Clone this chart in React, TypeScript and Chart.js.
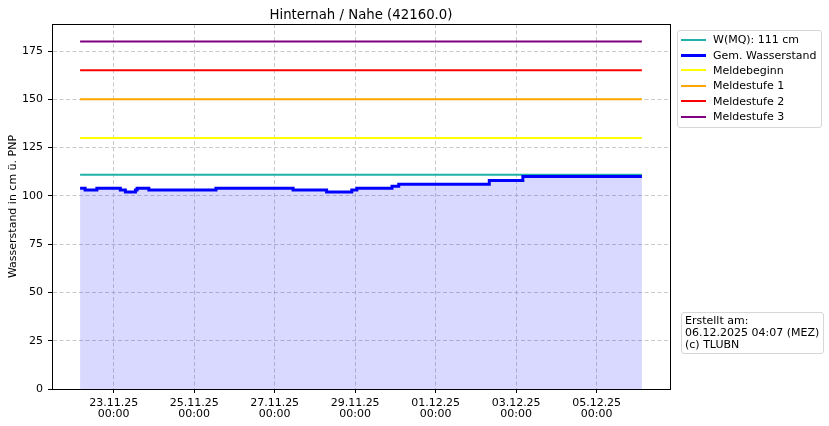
import { useEffect, useRef } from 'react'
import { Chart, registerables } from 'chart.js'
import type { Plugin } from 'chart.js'

Chart.register(...registerables)

// Pegel data (times are local MEZ, kept as UTC to avoid TZ shifts)
const chartTitle = 'Hinternah / Nahe (42160.0)'
const yAxisTitle = 'Wasserstand in cm ü. PNP'

const levelTimes = [
  '2025-11-22T04:00', '2025-11-22T07:00', '2025-11-22T14:00', '2025-11-23T04:00',
  '2025-11-23T07:00', '2025-11-23T13:00', '2025-11-23T14:00', '2025-11-23T21:00',
  '2025-11-25T13:00', '2025-11-27T11:00', '2025-11-28T07:00', '2025-11-28T22:00',
  '2025-11-29T01:00', '2025-11-29T22:00', '2025-11-30T02:00', '2025-12-02T08:00',
  '2025-12-03T04:00', '2025-12-06T03:00'
]
const levelValues = [104, 103, 104, 103, 102, 103, 104, 103, 104, 103, 102, 103, 104, 105, 106, 108, 110, 110]

const mqLabel = 'W(MQ): 111 cm'
const mqValue = 111

const thresholdNames = ['Meldebeginn', 'Meldestufe 1', 'Meldestufe 2', 'Meldestufe 3']
const thresholdValues = [130, 150, 165, 180]
const thresholdColors = ['#ffff00', '#ffa500', '#ff0000', '#800080']

const xTickTimes = [
  '2025-11-23T00:00', '2025-11-25T00:00', '2025-11-27T00:00', '2025-11-29T00:00',
  '2025-12-01T00:00', '2025-12-03T00:00', '2025-12-05T00:00'
]
const yTickValues = [0, 25, 50, 75, 100, 125, 150, 175]

const infoLines = ['Erstellt am:', '06.12.2025 04:07 (MEZ)', '(c) TLUBN']

const ts = (s: string) => Date.parse(s + ':00Z')
const pad2 = (n: number) => String(n).padStart(2, '0')

const FONT = '"DejaVu Sans", sans-serif'

// matplotlib-like box around the plot area
const framePlugin: Plugin = {
  id: 'frame',
  afterDatasetsDraw(chart) {
    const { ctx, chartArea } = chart
    ctx.save()
    ctx.strokeStyle = '#000'
    ctx.lineWidth = 1
    ctx.strokeRect(
      Math.round(chartArea.left) + 0.5,
      Math.round(chartArea.top) + 0.5,
      Math.round(chartArea.right - chartArea.left),
      Math.round(chartArea.bottom - chartArea.top)
    )
    ctx.restore()
  }
}

export default function App() {
  const canvasRef = useRef<HTMLCanvasElement>(null)

  useEffect(() => {
    if (!canvasRef.current) return
    const start = ts(levelTimes[0])
    const end = ts(levelTimes[levelTimes.length - 1])
    const margin = (end - start) * 0.05

    const flat = (v: number) => [{ x: start, y: v }, { x: end, y: v }]

    const chart = new Chart(canvasRef.current, {
      type: 'line',
      data: {
        datasets: [
          {
            label: 'Gem. Wasserstand',
            data: levelTimes.map((t, i) => ({ x: ts(t), y: levelValues[i] })),
            borderColor: '#0000ff',
            borderWidth: 3,
            stepped: true,
            fill: 'origin',
            backgroundColor: 'rgba(0, 0, 255, 0.15)',
            pointRadius: 0
          },
          {
            label: mqLabel,
            data: flat(mqValue),
            borderColor: '#20b2aa',
            borderWidth: 2,
            pointRadius: 0,
            fill: false
          },
          ...thresholdNames.map((name, i) => ({
            label: name,
            data: flat(thresholdValues[i]),
            borderColor: thresholdColors[i],
            borderWidth: 2,
            pointRadius: 0,
            fill: false
          }))
        ]
      },
      options: {
        animation: false,
        responsive: false,
        layout: { padding: { top: 24, right: 159, left: 0, bottom: 0 } },
        plugins: {
          legend: { display: false },
          tooltip: { enabled: false },
          title: { display: false }
        },
        scales: {
          x: {
            type: 'linear',
            min: start - margin,
            max: end + margin,
            afterFit: (scale) => { scale.height = 37 },
            afterBuildTicks: (scale) => {
              scale.ticks = xTickTimes.map(t => ({ value: ts(t) }))
            },
            ticks: {
              autoSkip: false,
              maxRotation: 0,
              padding: 4,
              color: '#000',
              font: { family: FONT, size: 11, lineHeight: 1.05 },
              callback: (value) => {
                const d = new Date(Number(value))
                return [
                  `${pad2(d.getUTCDate())}.${pad2(d.getUTCMonth() + 1)}.${String(d.getUTCFullYear()).slice(2)}`,
                  `${pad2(d.getUTCHours())}:${pad2(d.getUTCMinutes())}`
                ]
              }
            },
            grid: {
              color: '#bcbcbc',
              lineWidth: 0.8,
              tickColor: '#000',
              tickLength: 4,
              tickWidth: 1
            },
            border: { display: true, color: '#000', dash: [4, 2.5] }
          },
          y: {
            min: 0,
            max: 189,
            afterFit: (scale) => { scale.width = 52 },
            afterBuildTicks: (scale) => {
              scale.ticks = yTickValues.map(v => ({ value: v }))
            },
            ticks: {
              padding: 5,
              color: '#000',
              font: { family: FONT, size: 11 }
            },
            grid: {
              color: '#bcbcbc',
              lineWidth: 0.8,
              tickColor: '#000',
              tickLength: 4,
              tickWidth: 1
            },
            border: { display: true, color: '#000', dash: [4, 2.5] },
            title: {
              display: true,
              text: yAxisTitle,
              color: '#000',
              font: { family: FONT, size: 11 },
              padding: { top: 7, bottom: 0 }
            }
          }
        }
      },
      plugins: [framePlugin]
    })

    return () => chart.destroy()
  }, [])

  const legendItems = [
    { label: mqLabel, color: '#20b2aa', width: 2 },
    { label: 'Gem. Wasserstand', color: '#0000ff', width: 3 },
    ...thresholdNames.map((n, i) => ({ label: n, color: thresholdColors[i], width: 2 }))
  ]

  return (
    <div style={{ position: 'absolute', left: 0, top: 0, width: 829, height: 426, background: '#fff', fontFamily: FONT, color: '#000' }}>
      <canvas ref={canvasRef} width={829} height={426} style={{ position: 'absolute', left: 0, top: 0 }} />
      <div style={{ position: 'absolute', left: 52, width: 618, top: 7, textAlign: 'center', fontSize: 13.3, lineHeight: '16px' }}>
        {chartTitle}
      </div>
      <div style={{
        position: 'absolute', left: 677, top: 30, width: 143, height: 95,
        border: '1px solid #d6d6d6', borderRadius: 3, background: 'rgba(255,255,255,0.8)',
        paddingTop: 1, boxSizing: 'content-box'
      }}>
        {legendItems.map(item => (
          <div key={item.label} style={{ height: 15.4, display: 'flex', alignItems: 'center', fontSize: 11 }}>
            <div style={{ marginLeft: 3, width: 25, height: item.width, background: item.color }} />
            <div style={{ marginLeft: 7, whiteSpace: 'nowrap' }}>{item.label}</div>
          </div>
        ))}
      </div>
      <div style={{
        position: 'absolute', left: 681, top: 312, width: 135, height: 36,
        border: '1px solid #d6d6d6', borderRadius: 3, padding: '2px 3px',
        fontSize: 11, lineHeight: '12px', whiteSpace: 'nowrap'
      }}>
        {infoLines.map(l => <div key={l}>{l}</div>)}
      </div>
    </div>
  )
}
